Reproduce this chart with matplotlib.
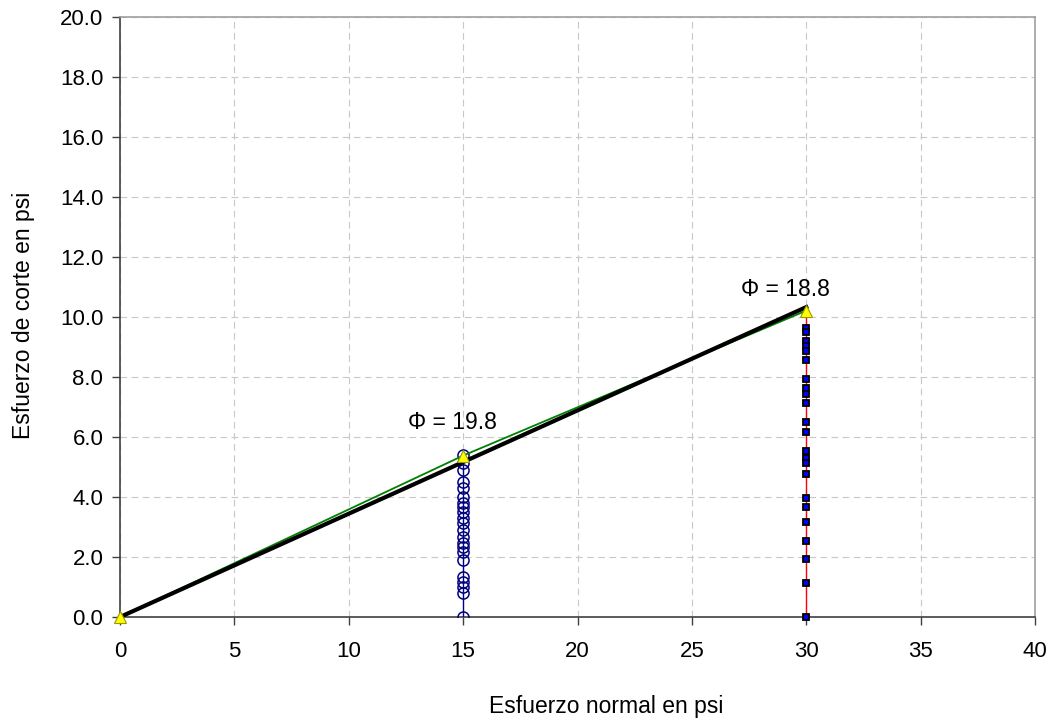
import matplotlib
matplotlib.use("Agg")
import matplotlib.pyplot as plt
import numpy as np

plt.rcParams['font.family'] = ['Liberation Sans', 'DejaVu Sans']

# Data
circ_x = 15
circ_y = [5.40, 5.12, 4.90, 4.51, 4.29, 4.01, 3.79, 3.68, 3.51, 3.29, 3.12,
          2.90, 2.68, 2.46, 2.34, 2.18, 1.90, 1.34, 1.18, 1.01, 0.79, 0.0]
sq_x = 30
sq_y = [9.64, 9.51, 9.20, 9.03, 8.87, 8.56, 7.92, 7.62, 7.43, 7.12, 6.49,
        6.18, 5.54, 5.29, 5.12, 4.77, 3.96, 3.66, 3.18, 2.54, 1.92, 1.12, 0.0]
sq_top = 10.2
tri_x = [0, 15, 30]
tri_y = [0.0, 5.38, 10.21]
fit_x = [0, 30]
fit_y = [0.0, 10.33]
labels = ["\u03a6 = 19.8", "\u03a6 = 18.8"]
label_x = [14.55, 29.1]
label_y = [6.47, 10.9]
xticks = [0, 5, 10, 15, 20, 25, 30, 35, 40]
yticks = [0, 2, 4, 6, 8, 10, 12, 14, 16, 18, 20]

W, H = 1059, 728
fig = plt.figure(figsize=(W / 100, H / 100), dpi=100)
ax = fig.add_axes([120 / W, 1 - 617 / H, (1035 - 120) / W, 600 / H])

ax.grid(True, color='#c8c8c8', linestyle=(0, (6, 4)), linewidth=0.8)
ax.set_axisbelow(True)

# circles column (blue, open)
ax.plot([circ_x] * len(circ_y), circ_y, color='#000080', linewidth=1.0,
        marker='o', markersize=8, markerfacecolor='none',
        markeredgecolor='#000080', markeredgewidth=1.1, zorder=3)
# squares column (red line, blue squares)
ax.plot([sq_x, sq_x], [0, sq_top], color='red', linewidth=1.0, zorder=3)
ax.plot([sq_x] * len(sq_y), sq_y, linestyle='none', marker='s', markersize=5,
        markerfacecolor='#0000ff', markeredgecolor='#000000',
        markeredgewidth=1.3, zorder=4, clip_on=False)

ax.plot(tri_x, tri_y, color='#008000', linewidth=1.3, zorder=5)
ax.plot(fit_x, fit_y, color='black', linewidth=3.0, zorder=6)
ax.plot(tri_x, tri_y, linestyle='none', marker='^', markersize=8,
        markerfacecolor='#ffff00', markeredgecolor='#999900',
        markeredgewidth=0.8, zorder=7, clip_on=False)

for t, x, y in zip(labels, label_x, label_y):
    ax.text(x, y, t, fontsize=16.5, ha='center', va='center', zorder=8)

ax.set_xlim(0, 40)
ax.set_ylim(0, 20)
ax.set_xticks(xticks)
ax.set_yticks(yticks)
ax.set_yticklabels([f"{v:.1f}" for v in yticks])
ax.tick_params(labelsize=16, length=6, color='#404040', width=1)
ax.tick_params(axis='x', pad=11)
ax.tick_params(axis='y', pad=6)

for s in ['left', 'bottom']:
    ax.spines[s].set_color('#404040')
    ax.spines[s].set_linewidth(1.2)
for s in ['top', 'right']:
    ax.spines[s].set_color('#a0a0a0')
    ax.spines[s].set_linewidth(1.2)

fig.text(606 / W, 1 - 706 / H, "Esfuerzo normal en psi", fontsize=16.5,
         ha='center', va='center')
fig.text(24 / W, 1 - 315 / H, "Esfuerzo de corte en psi", fontsize=16.5,
         ha='center', va='center', rotation=90)

fig.savefig("out.png", dpi=100)
